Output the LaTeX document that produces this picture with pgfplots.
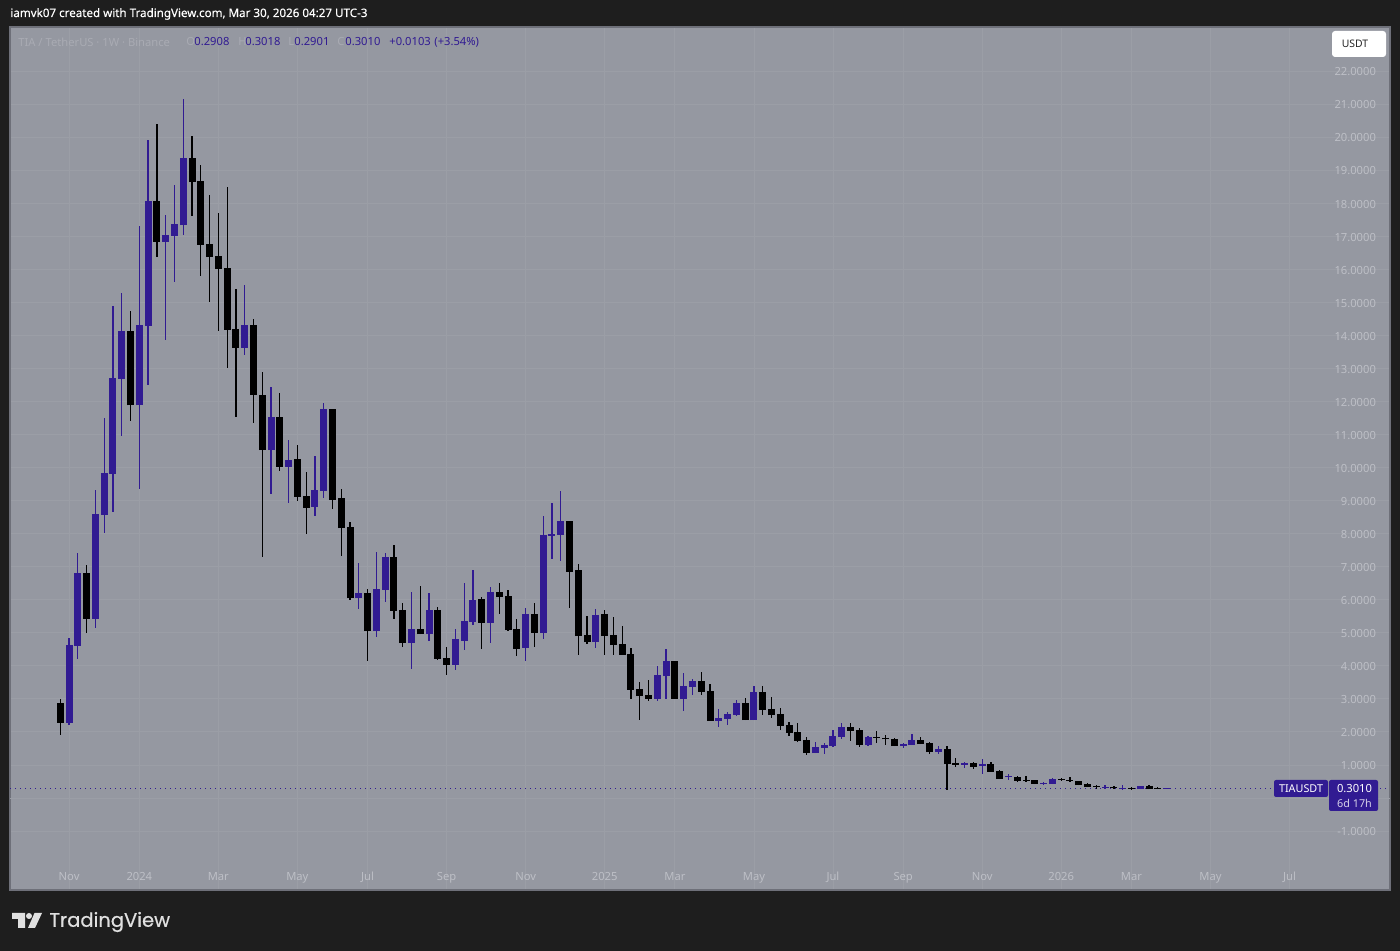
\documentclass[border=0pt]{standalone}
\usepackage{fontspec}
\usepackage{pgfplots}
\usepackage{pgfplotstable}
\pgfplotsset{compat=1.18}
\setmainfont{Noto Sans}
\newfontfamily\logofont[FakeBold=0.5]{Poppins}
\newfontfamily\headfont[FakeBold=0.25]{Noto Sans}
\definecolor{frame}{HTML}{1E1E1E}
\definecolor{panel}{HTML}{9598A1}
\definecolor{gridc}{HTML}{9B9EA6}
\definecolor{edgec}{HTML}{6E7079}
\definecolor{up}{HTML}{311B92}
\definecolor{axtext}{HTML}{BDBFC6}
\definecolor{faint}{HTML}{A9ABB3}

% weekly candles: i open high low close
\pgfplotstableread{
i o h l c
1 2.28 4.84 2.22 4.63
2 4.61 7.42 4.21 6.81
4 5.42 9.32 5.15 8.60
5 8.57 11.50 8.02 9.84
6 9.81 14.89 8.66 12.71
7 12.68 15.29 10.96 14.13
9 11.88 17.31 9.35 14.32
10 14.29 19.92 12.50 18.07
12 16.83 17.65 13.86 17.04
13 17.01 18.55 15.62 17.37
14 17.34 21.16 17.04 19.37
21 13.62 15.53 13.41 14.32
24 10.53 12.45 9.19 11.53
26 10.02 10.82 8.93 10.23
29 8.81 10.35 8.53 9.32
30 9.29 11.96 9.08 11.77
34 6.05 7.11 5.72 6.20
36 5.05 7.45 4.87 6.33
37 6.30 7.41 5.93 7.29
40 4.69 6.23 3.90 5.11
42 4.96 6.20 4.75 5.69
45 4.03 5.11 3.87 4.81
46 4.75 6.51 4.48 5.36
47 5.33 6.90 5.24 5.99
49 5.30 6.39 4.69 6.23
53 4.54 5.75 4.15 5.57
55 5.00 8.54 4.81 7.96
56 7.93 8.93 7.23 7.99
57 7.96 9.29 7.17 8.38
61 4.72 5.72 4.54 5.54
68 3.00 3.99 2.94 3.72
69 3.69 4.51 3.00 4.15
71 3.00 3.78 2.63 3.39
72 3.36 3.60 3.12 3.54
75 2.33 2.69 2.15 2.42
76 2.39 2.60 2.21 2.54
77 2.51 2.97 2.48 2.88
79 2.36 3.39 2.36 3.21
86 1.36 1.69 1.36 1.54
87 1.51 1.66 1.33 1.60
88 1.57 2.06 1.54 1.88
89 1.85 2.27 1.79 2.15
92 1.60 1.88 1.57 1.85
96 1.57 1.66 1.51 1.63
97 1.60 1.94 1.60 1.76
100 1.39 1.57 1.33 1.48
103 1.01 1.09 0.91 1.06
105 0.97 1.18 0.73 1.03
108 0.64 0.73 0.54 0.67
112 0.43 0.48 0.42 0.45
113 0.42 0.60 0.42 0.57
119 0.30 0.39 0.27 0.33
121 0.28 0.39 0.27 0.30
123 0.27 0.36 0.27 0.36
126 0.2908 0.3018 0.2901 0.3010
}\upcandles

\pgfplotstableread{
i o h l c
0 2.88 3.00 1.92 2.28
3 6.81 7.05 5.00 5.42
8 14.13 14.74 11.42 11.88
11 18.07 20.40 16.37 16.83
15 19.37 20.04 17.62 18.64
16 18.68 19.16 15.80 16.74
17 16.77 18.25 15.01 16.37
18 16.41 17.71 14.14 16.01
19 16.04 18.49 13.02 14.17
20 14.20 15.41 11.53 13.62
22 14.32 14.50 11.35 12.20
23 12.20 12.89 7.30 10.53
25 11.53 12.25 9.90 10.02
27 10.26 10.67 8.99 9.11
28 9.14 9.86 7.99 8.78
31 11.77 11.77 8.75 9.02
32 9.08 9.35 7.32 8.17
33 8.20 8.35 5.99 6.05
35 6.20 6.33 4.15 5.05
38 7.29 7.66 5.42 5.66
39 5.69 5.90 4.57 4.69
41 5.11 6.42 4.96 4.96
43 5.69 5.78 4.18 4.21
44 4.24 4.57 3.72 4.03
48 6.02 6.08 4.51 5.30
50 6.23 6.51 5.57 6.08
51 6.11 6.30 5.05 5.08
52 5.11 5.42 4.30 4.51
54 5.57 5.90 4.57 5.00
58 8.38 8.38 5.75 6.84
59 6.90 7.08 4.33 4.90
60 4.93 5.51 4.66 4.72
62 5.57 5.69 4.33 4.90
63 4.93 5.48 4.33 4.63
64 4.66 5.21 4.33 4.33
65 4.36 4.54 3.00 3.27
66 3.30 3.51 2.36 3.09
67 3.12 3.57 2.94 3.00
70 4.15 4.15 3.00 3.00
73 3.54 3.81 3.12 3.21
74 3.24 3.45 2.33 2.33
78 2.88 3.03 2.36 2.36
80 3.21 3.39 2.51 2.66
81 2.69 3.06 2.42 2.51
82 2.54 2.72 2.06 2.18
83 2.21 2.30 1.88 1.97
84 2.00 2.27 1.70 1.73
85 1.76 1.85 1.30 1.36
90 2.15 2.27 1.73 2.03
91 2.06 2.12 1.54 1.60
93 1.86 2.03 1.67 1.83
94 1.82 1.91 1.60 1.77
95 1.79 1.82 1.57 1.57
98 1.76 1.85 1.63 1.63
99 1.66 1.69 1.33 1.39
101 1.48 1.57 0.24 1.03
102 1.05 1.21 0.94 1.01
104 1.06 1.09 0.88 0.94
106 1.03 1.09 0.79 0.79
107 0.82 0.85 0.57 0.57
109 0.635 0.67 0.51 0.52
110 0.54 0.67 0.51 0.52
111 0.54 0.54 0.42 0.42
114 0.575 0.60 0.54 0.555
115 0.54 0.635 0.51 0.52
116 0.51 0.51 0.39 0.39
117 0.42 0.455 0.33 0.33
118 0.36 0.39 0.27 0.33
120 0.33 0.36 0.27 0.30
122 0.30 0.33 0.27 0.28
124 0.36 0.39 0.27 0.27
125 0.30 0.33 0.27 0.27
}\downcandles

\pgfplotsset{
  wick/.style={draw=none,no markers,forget plot,
    error bars/.cd,y dir=both,y explicit,error mark=none,
    error bar style={line width=0.62pt,draw=#1}},
  body/.style={draw=none,no markers,forget plot,
    error bars/.cd,y dir=plus,y explicit,error mark=none,
    error bar style={line width=3.5pt,draw=#1}},
}

\begin{document}
\begin{tikzpicture}
\useasboundingbox (0,0) rectangle (700pt,475.5pt);
\fill[frame] (0,0) rectangle (700pt,475.5pt);
\begin{axis}[at={(5pt,30.5pt)},anchor=south west,scale only axis,width=690pt,height=431.5pt,
  xmin=-5.729,xmax=151.45,ymin=-2.785,ymax=23.335,
  axis background/.style={fill=panel},
  axis line style={edgec,line width=0.6pt},
  major tick length=0pt,grid=major,grid style={gridc,line width=0.4pt},
  xtick={1,9,18,27,35,44,53,62,70,79,88,96,105,114,122,131,140},
  xticklabels={Nov,2024,Mar,May,Jul,Sep,Nov,2025,Mar,May,Jul,Sep,Nov,2026,Mar,May,Jul},
  xticklabel style={font=\fontsize{5.6}{6}\selectfont,text=axtext,anchor=base,yshift=4.5pt},
  ytick={-1,1,2,...,22},
  extra y ticks={0},extra y tick labels={},
  yticklabel pos=right,
  yticklabel style={font=\fontsize{5.6}{6}\selectfont,text=axtext,anchor=east,xshift=-3.5pt,yshift=-0.4pt,
    /pgf/number format/fixed,/pgf/number format/fixed zerofill,/pgf/number format/precision=4,
    /pgf/number format/assume math mode=true},
]
\addplot[dotted,up,line width=0.5pt,forget plot] coordinates {(-5.7,0.301) (151.4,0.301)};
\addplot[wick=up] table[x=i,y=o,y error plus expr=\thisrow{h}-\thisrow{o},y error minus expr=\thisrow{o}-\thisrow{l}] {\upcandles};
\addplot[wick=black] table[x=i,y=c,y error plus expr=\thisrow{h}-\thisrow{c},y error minus expr=\thisrow{c}-\thisrow{l}] {\downcandles};
\addplot[body=up] table[x=i,y=o,y error plus expr=\thisrow{c}-\thisrow{o}] {\upcandles};
\addplot[body=black] table[x=i,y=c,y error plus expr=\thisrow{o}-\thisrow{c}] {\downcandles};
\end{axis}
\begin{scope}[shift={(0,475.5pt)},x=0.5pt,y=-0.5pt]
% header
\node[anchor=west,inner sep=0,text=white,font=\headfont\fontsize{5.8}{6}\selectfont] at (10,14) {iamvk07 created with TradingView.com, Mar 30, 2026 04:27 UTC-3};
% legend line
\begin{scope}[every node/.style={anchor=west,inner sep=0,font=\fontsize{5.6}{6}\selectfont}]
\node[text=faint] at (18,42) {TIA / TetherUS · 1W · Binance};
\node[text=faint] at (186,42) {O};
\node[text=up] at (194,42) {0.2908};
\node[text=faint] at (238,42) {H};
\node[text=up] at (245,42) {0.3018};
\node[text=faint] at (288,42) {L};
\node[text=up] at (294,42) {0.2901};
\node[text=faint] at (337,42) {C};
\node[text=up] at (345,42) {0.3010};
\node[text=up] at (389,42) {+0.0103};
\node[text=up] at (434,42) {(+3.54\%)};
\end{scope}
% scale button
\fill[white,rounded corners=1.5pt] (1332,31) rectangle (1386,57);
\node[text=black!85,font=\fontsize{5.2}{6}\selectfont] at (1355,44) {USDT};
% last price tags
\fill[up,rounded corners=1pt] (1274,780) rectangle (1328,797);
\fill[up,rounded corners=1pt] (1329,780) rectangle (1378,811);
\node[inner sep=0,text=white,font=\fontsize{5.4}{6}\selectfont] at (1301,789) {TIAUSDT};
\node[inner sep=0,text=white,font=\fontsize{5.6}{6}\selectfont] at (1354.5,789) {0.3010};
\node[inner sep=0,text=white!80!up,font=\fontsize{5.4}{6}\selectfont] at (1354.5,803) {6d 17h};
% logo
\fill[white!88!black] (12,913) -- (25,913) -- (25,928) -- (18,928) -- (18,919) -- (12,919) -- cycle;
\fill[white!88!black] (29,916) circle (3);
\fill[white!88!black] (34.5,913) -- (42,913) -- (35,928) -- (28,928) -- cycle;
\node[anchor=west,inner sep=0,text=white!88!black,font=\logofont\fontsize{9.75}{12}\selectfont] at (49,922) {TradingView};
\end{scope}
\end{tikzpicture}
\end{document}
